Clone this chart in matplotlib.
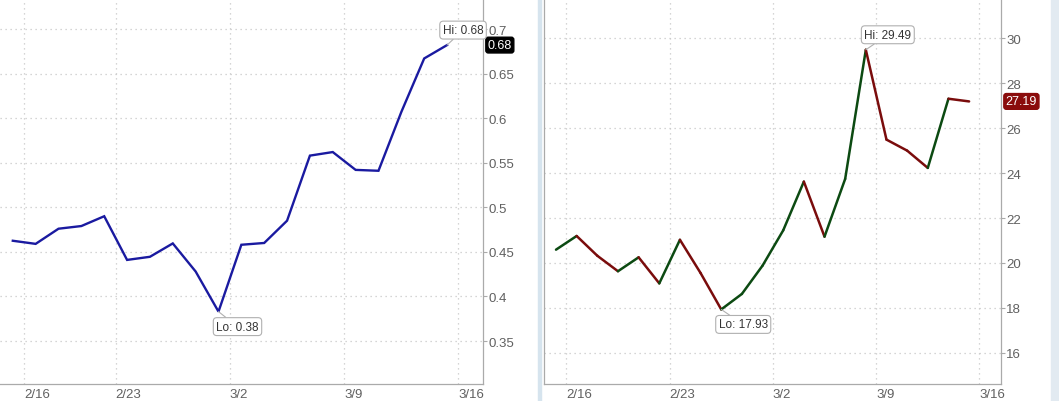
import numpy as np
import pandas as pd
import matplotlib
matplotlib.use('Agg')
import matplotlib.pyplot as plt
from matplotlib.patches import Rectangle

plt.rcParams['font.family'] = ['Liberation Sans', 'DejaVu Sans']

# --- dados (dias úteis, fev/mar 2015) ---
datas_dir = pd.bdate_range('2015-02-13', '2015-03-13')
datas_esq = datas_dir[datas_dir != pd.Timestamp('2015-02-16')]  # feriado no painel esquerdo

valores_esq = [0.4625, 0.459, 0.476, 0.479, 0.490, 0.441, 0.4445, 0.4595, 0.428, 0.383,
               0.458, 0.460, 0.485, 0.558, 0.562, 0.542, 0.541, 0.607, 0.667, 0.682]
valores_dir = [20.59, 21.20, 20.32, 19.63, 20.25, 19.09, 21.03, 19.55, 17.93, 18.62, 19.88,
               21.45, 23.62, 21.17, 23.74, 29.49, 25.49, 25.00, 24.23, 27.31, 27.19]

rotulos_x = ['2/16', '2/23', '3/2', '3/9', '3/16']
datas_ticks = pd.to_datetime(['2015-02-16', '2015-02-23', '2015-03-02', '2015-03-09', '2015-03-16'])

ticks_y_esq = [0.35, 0.4, 0.45, 0.5, 0.55, 0.6, 0.65, 0.7]
ticks_y_dir = [16, 18, 20, 22, 24, 26, 28, 30]

AZUL = '#1a1aa0'
VERDE = '#0c4a12'
VERMELHO = '#7a0c0c'
CINZA = '#aaaaaa'


def preparar_eixo(ax, datas, ticks_y, fmt):
    pos = np.searchsorted(datas.values, datas_ticks.values) - 0.5
    ax.set_xticks(pos)
    ax.set_xticklabels(rotulos_x, ha='left')
    ax.set_yticks(ticks_y)
    ax.set_yticklabels([fmt(v) for v in ticks_y])
    ax.yaxis.tick_right()
    ax.grid(True, linestyle=(0, (1, 3)), color='#c8c8c8', linewidth=0.9)
    ax.tick_params(axis='x', length=0, pad=3, labelsize=9.5, labelcolor='#606060')
    ax.tick_params(axis='y', length=3, width=0.8, color=CINZA, pad=1,
                   labelsize=9.5, labelcolor='#606060')
    for lado in ['top', 'left', 'right', 'bottom']:
        ax.spines[lado].set_color(CINZA)
        ax.spines[lado].set_linewidth(0.9)
    ax.spines['top'].set_visible(False)


def marcar(ax, x, y, texto, dx, dy):
    ax.annotate(texto, xy=(x, y), xytext=(dx, dy), textcoords='offset pixels',
                ha='center', va='center', fontsize=8.5, color='#333333',
                bbox=dict(boxstyle='round,pad=0.25,rounding_size=0.3', fc='white', ec='#b0b0b0', lw=0.8),
                arrowprops=dict(arrowstyle='-', color='#b0b0b0', lw=0.8, shrinkA=0, shrinkB=0),
                annotation_clip=False, zorder=5)


def etiqueta_final(ax, y, texto, cor):
    ax.annotate(texto, xy=(1, y), xycoords=('axes fraction', 'data'), xytext=(5, 0),
                textcoords='offset pixels', ha='left', va='center', fontsize=9, color='white',
                bbox=dict(boxstyle='round,pad=0.15,rounding_size=0.2', fc=cor, ec=cor),
                annotation_clip=False)


fig = plt.figure(figsize=(10.59, 4.02), dpi=100)

# divisórias do fundo
fig.patches.append(Rectangle((538 / 1059, 0), 3 / 1059, 1, transform=fig.transFigure,
                             color='#d6e4ee', zorder=0))
fig.patches.append(Rectangle((1051 / 1059, 0), 8 / 1059, 1, transform=fig.transFigure,
                             color='#e2eaf1', zorder=0))

# --- painel esquerdo ---
ax1 = fig.add_axes([0, 17 / 402, 482.7 / 1059, 385 / 402])
x1 = np.arange(len(valores_esq))
ax1.plot(x1, valores_esq, color=AZUL, linewidth=1.7, solid_joinstyle='miter')
ax1.set_xlim(-0.56, 20.56)
ax1.set_ylim(0.3018, 0.7337)
preparar_eixo(ax1, datas_esq, ticks_y_esq, lambda v: f'{v:g}')
ax1.spines['left'].set_visible(False)
i_hi, i_lo = int(np.argmax(valores_esq)), int(np.argmin(valores_esq))
marcar(ax1, i_hi, valores_esq[i_hi], f'Hi: {valores_esq[i_hi]:.2f}', 16, 15)
marcar(ax1, i_lo, valores_esq[i_lo], f'Lo: {valores_esq[i_lo]:.2f}', 19, -15)
etiqueta_final(ax1, valores_esq[-1], f'{valores_esq[-1]:.2f}', 'black')

# --- painel direito ---
ax2 = fig.add_axes([543.5 / 1059, 17 / 402, 457.2 / 1059, 385 / 402])
x2 = np.arange(len(valores_dir))
for i in range(len(valores_dir) - 1):
    cor = VERDE if valores_dir[i + 1] >= valores_dir[i] else VERMELHO
    ax2.plot(x2[i:i + 2], valores_dir[i:i + 2], color=cor, linewidth=1.8,
             solid_capstyle='round')
ax2.set_xlim(-0.605, 21.53)
ax2.set_ylim(14.61, 31.75)
preparar_eixo(ax2, datas_dir, ticks_y_dir, lambda v: f'{v:d}')
j_hi, j_lo = int(np.argmax(valores_dir)), int(np.argmin(valores_dir))
marcar(ax2, j_hi, valores_dir[j_hi], f'Hi: {valores_dir[j_hi]:.2f}', 22, 15)
marcar(ax2, j_lo, valores_dir[j_lo], f'Lo: {valores_dir[j_lo]:.2f}', 22, -15)
etiqueta_final(ax2, valores_dir[-1], f'{valores_dir[-1]:.2f}', '#8a0c0c')

fig.savefig('out.png', dpi=100)
